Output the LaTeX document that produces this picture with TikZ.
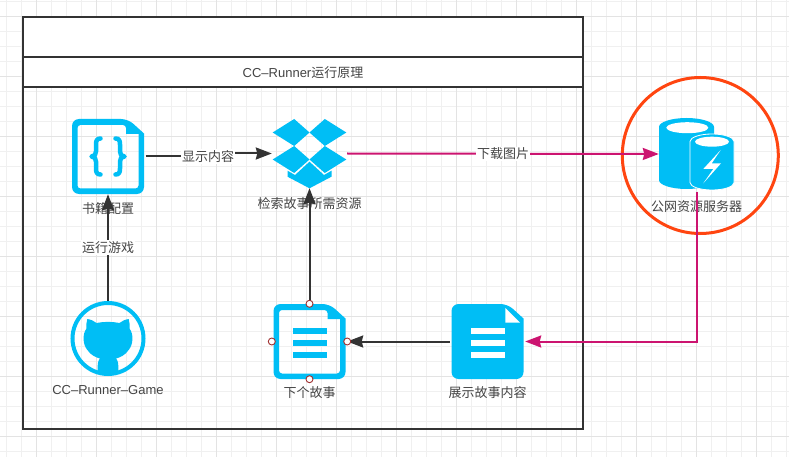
\documentclass[tikz,border=0pt]{standalone}
\usepackage{fontspec}
\setmainfont{Liberation Sans}
\newfontfamily\cjk{Noto Sans CJK SC}
\usetikzlibrary{positioning,arrows.meta}
\definecolor{iconblue}{HTML}{00BEF5}
\definecolor{darkline}{HTML}{333333}
\definecolor{labelgray}{HTML}{444444}
\definecolor{pinkline}{HTML}{CC1470}
\definecolor{ringred}{HTML}{FF4510}
\definecolor{portred}{HTML}{A03030}
\tikzset{
pics/docframe/.style={code={
\fill[iconblue, even odd rule, rounded corners=7] (-36,-37.5) -- (20,-37.5) [sharp corners] -- (36,-23) [rounded corners=7] -- (36,37.5) -- (-36,37.5) -- cycle
  [rounded corners=3] (-30.5,-31.5) -- (18,-31.5) [sharp corners] -- (18,-22.5) -- (30.5,-22.5) [rounded corners=3] -- (30.5,32) -- (-30.5,32) -- cycle;
}},
pics/docsolid/.style={code={
\fill[iconblue, rounded corners=7] (-36,-37.5) -- (20,-37.5) [sharp corners] -- (36,-23) [rounded corners=7] -- (36,37.5) -- (-36,37.5) -- cycle;
\fill[white] (17.8,-33.5) -- (17.8,-18.8) -- (32.5,-18.8) -- cycle;
}},
pics/docbars/.style={code={
\foreach \y in {-10.3,1.5,13.2} \fill[#1] (-17,\y-3) rectangle (17,\y+3);
}},
pics/curly/.style={code={
\foreach \s in {1,-1} \draw[iconblue, line width=4.5, line cap=round, line join=round, xscale=\s] (-7.5,-18) .. controls (-11,-18) and (-12,-16) .. (-12,-12) -- (-12,-5) .. controls (-12,-2) and (-13.5,0) .. (-16.5,0) .. controls (-13.5,0) and (-12,2) .. (-12,5) -- (-12,12) .. controls (-12,16) and (-11,18) .. (-7.5,18);
}},
pics/dropbox/.style={code={
\foreach \s in {1,-1} {
\fill[iconblue, xscale=\s] (-36.8,-21) -- (-15.3,-34.5) -- (0,-21) -- (-15.3,-7.5) -- cycle;
\fill[iconblue, xscale=\s] (-36.8,6) -- (-15.3,-7.5) -- (0,6) -- (-15.3,19.5) -- cycle;
}
\fill[iconblue] (0,8.2) -- (-14.5,21.5) -- (-22,17.2) -- (-22,23.2) -- (0,34.8) -- (22,23.2) -- (22,17.2) -- (14.5,21.5) -- cycle;
}},
pics/octocat/.style={code={
\draw[iconblue, line width=4] (0,0) circle (35.5);
\fill[iconblue] (-20.7,-19.5) .. controls (-17,-19) and (-14,-17.5) .. (-11.5,-15.5) .. controls (-4,-17) and (4,-17) .. (11.5,-15.5) .. controls (14,-17.5) and (17,-19) .. (20.7,-19.5) .. controls (21.5,-16) and (22,-13) .. (21.5,-10) .. controls (26,-4) and (25,6) .. (21,11) .. controls (17,17) and (12,19) .. (8,20) .. controls (10,22) and (10.5,25) .. (10.5,33) .. controls (4,35.5) and (-4,35.5) .. (-10.5,33) .. controls (-10.5,25) and (-10,22) .. (-8,20) .. controls (-12,19) and (-17,17) .. (-21,11) .. controls (-25,6) and (-26,-4) .. (-21.5,-10) .. controls (-22,-13) and (-21.5,-16) .. (-20.7,-19.5) -- cycle;
}},
pics/cylinders/.style={code={
\fill[iconblue] (-37.5,-27) arc[start angle=180, end angle=0, x radius=27.5pt, y radius=9pt] -- (17.5,26) arc[start angle=0, end angle=-180, x radius=27.5pt, y radius=9pt] -- cycle;
\fill[white] (-9.2,-26.3) ellipse[x radius=21pt, y radius=5.5pt];
\filldraw[iconblue, draw=white, line width=0.8] (-6.5,-12.5) arc[start angle=180, end angle=0, x radius=22pt, y radius=7.5pt] -- (37.5,28.5) arc[start angle=0, end angle=-180, x radius=22pt, y radius=7.5pt] -- cycle;
\fill[white] (15.5,-12.3) ellipse[x radius=17pt, y radius=5pt];
\fill[white] (24.2,-4) -- (6.8,15) -- (16.8,15) -- (6.8,29.3) -- (24.5,9.3) -- (15.2,9.3) -- cycle;
}}
}

\begin{document}
\begin{tikzpicture}[x=1pt, y=-1pt, node distance = 10pt and 10pt, on grid,
icon/.style ={minimum width=75pt, minimum height=75pt, inner sep=0pt},
caption/.style ={font=\fontsize{13}{15}\selectfont\cjk, text=labelgray, inner sep=0pt},
edgetext/.style ={caption, fill=white, inner sep=1pt},
flow/.style ={-{Stealth[length=16pt, width=12pt, inset=1.5pt]}, line width=2pt, draw=darkline},
fetch/.style ={flow, draw=pinkline},
port/.style ={circle, draw=portred, fill=white, line width=0.9pt, minimum size=7pt, inner sep=0pt},
gridfine/.style ={draw=black!6, line width=1pt},
gridmain/.style ={draw=black!11, line width=1pt},
frame/.style ={draw=darkline, line width=2pt}]
\useasboundingbox (0,0) rectangle (789,457);
\fill[white] (0,0) rectangle (789,457);
\foreach \i in {0,...,52} \draw[gridfine] ({6.7+15*\i},0) -- ++(0,457);
\foreach \i in {0,...,30} \draw[gridfine] (0,{1.7+15*\i}) -- ++(789,0);
\foreach \i in {0,...,12} \draw[gridmain] ({36.7+60*\i},0) -- ++(0,457);
\foreach \i in {0,...,7} \draw[gridmain] (0,{16.7+60*\i}) -- ++(789,0);

\filldraw[frame, fill=white] (23.3,16.7) rectangle (583,56.7);
\filldraw[frame, fill=white] (23.3,56.7) rectangle (583,86.7);
\draw[frame] (23.3,86.7) rectangle (583,429);
\draw[ringred, line width=3pt] (700.3,155.5) circle (78);

\node[icon] (book) at (108,156.5) {};
\node[icon] (run) [below = 182pt of book] {};
\node[icon, minimum height=69pt] (box) at (309.5,153.5) {};
\node[icon] (next) [below = 188pt of box] {};
\node[icon] (show) [right = 178pt of next] {};
\node[icon] (server) at (696.5,154) {};
\node[caption] (bookname) [below = 52.5pt of book] {书籍配置};
\node[caption, font=\fontsize{13}{15}\selectfont] (runname) [below = 52pt of run] {CC–Runner–Game};
\node[caption] (boxname) [below = 50.5pt of box] {检索故事所需资源};
\node[caption] (nextname) [below = 51.5pt of next] {下个故事};
\node[caption] (showname) [below = 51.5pt of show] {展示故事内容};
\node[caption] (servername) [below = 52.5pt of server] {公网资源服务器};
\node[caption] (title) at (303,73) {{\rmfamily CC–Runner}运行原理};
\coordinate (jog) at (208,156.5);

\pic at (book) {docframe};
\pic at (book) {curly};
\pic at (box) {dropbox};
\pic at (run) {octocat};
\pic at (next) {docframe};
\pic at (next) {docbars=iconblue};
\pic at (show) {docsolid};
\pic at (show) {docbars=white};
\pic at (server) {cylinders};

\draw[flow] (book.east) -- (jog) |- (box.west);
\node[edgetext] (showlabel) at (jog) {显示内容};
\draw[flow] (run.north) -- (run.north |- book.south) node[edgetext, midway] (runlabel) {运行游戏};
\draw[flow] (next.north) -- (box.south);
\draw[flow] (show.west) -- (next.east);
\draw[fetch] (box.east) -- (server.west) node[edgetext, pos=0.5] (getlabel) {下载图片};
\draw[fetch] (server.south) |- (show.east);

\node[port] (porttop) at (next.north) {};
\node[port] (portbottom) at (next.south) {};
\node[port] (portleft) at (next.west) {};
\node[port] (portright) at (next.east) {};
\end{tikzpicture}
\end{document}
